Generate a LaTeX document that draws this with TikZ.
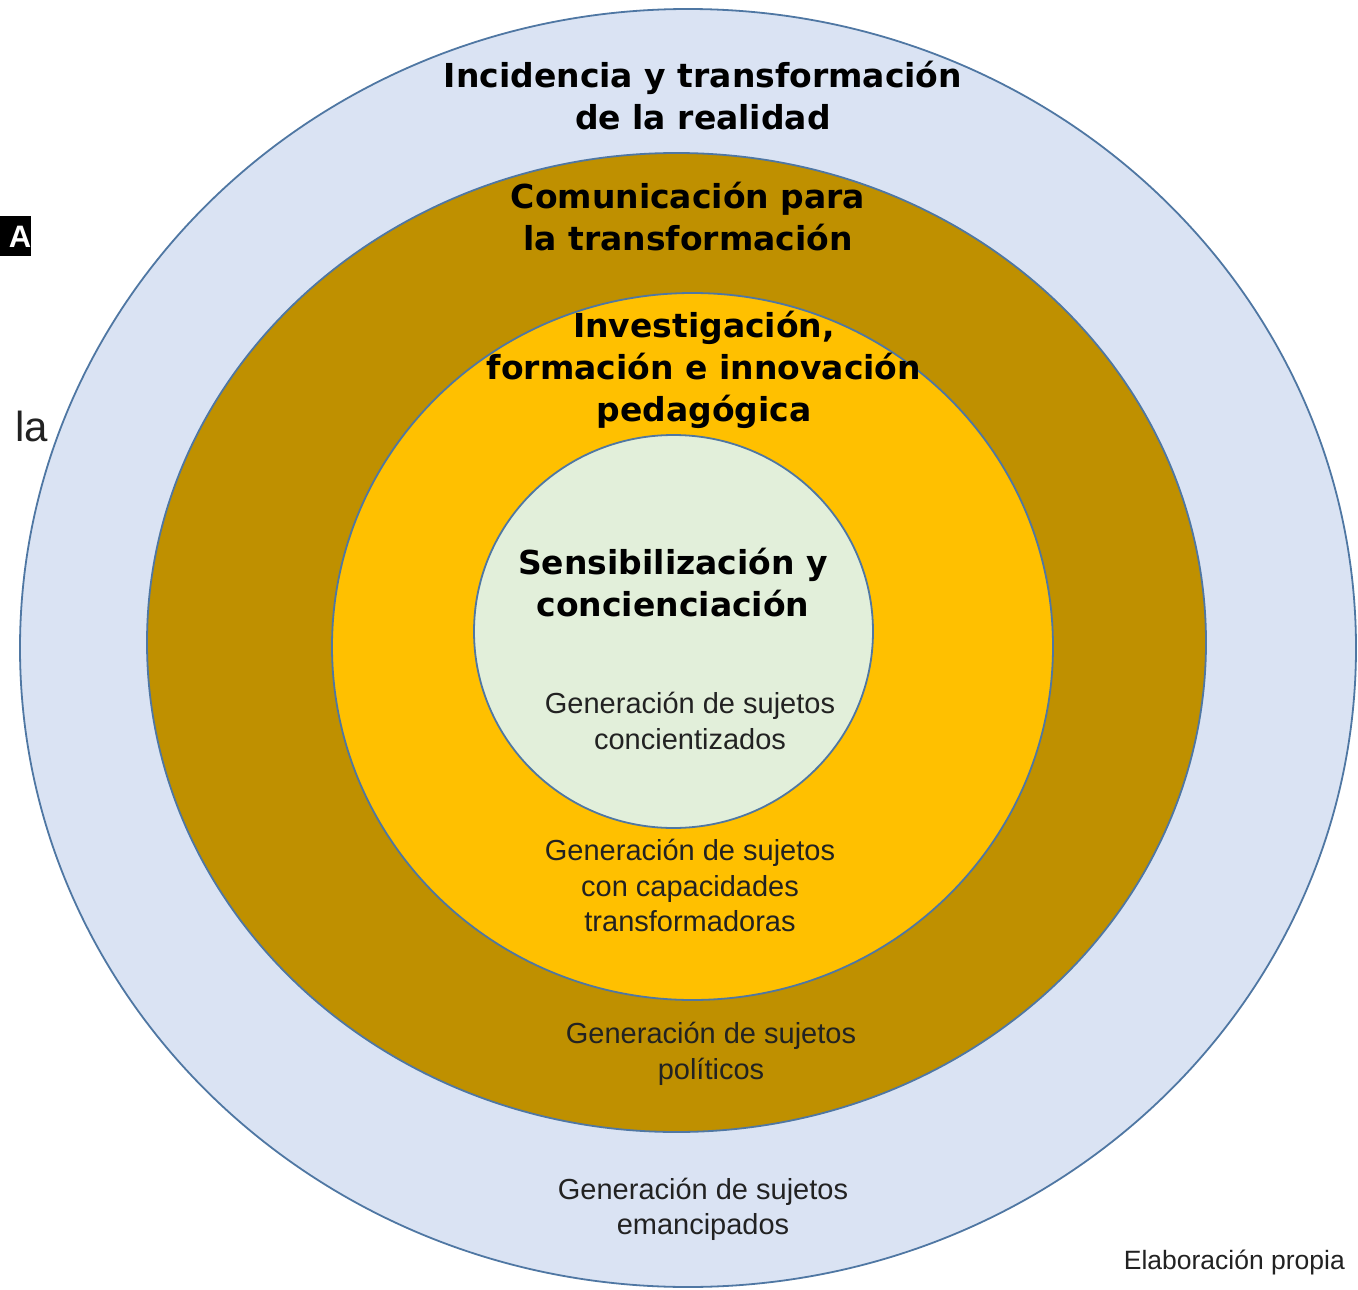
\documentclass[tikz,border=0pt]{standalone}
\usepackage{fontspec}
\setmainfont{Liberation Sans}
\newfontfamily\hfont{DejaVu Sans}
\newfontfamily\bodyfont{Liberation Sans}
\definecolor{outerfill}{HTML}{DAE3F3}
\definecolor{brownfill}{HTML}{BF9000}
\definecolor{yellowfill}{HTML}{FFC000}
\definecolor{greenfill}{HTML}{E2EFDA}
\definecolor{ringline}{HTML}{4F77A3}
\definecolor{bodytext}{HTML}{222222}
\tikzset{
  ring/.style={draw=ringline, line width=1.8pt},
  headtxt/.style={align=center, inner sep=0pt, font=\hfont\bfseries\fontsize{33}{42}\selectfont},
  bodytxt/.style={align=center, inner sep=0pt, text=bodytext, font=\bodyfont\fontsize{29}{35.5}\selectfont},
}
\begin{document}
\begin{tikzpicture}[x=1pt,y=-1pt]
\useasboundingbox (0,0) rectangle (1358,1290);
\clip (0,0) rectangle (1358,1290);
\fill[white] (0,0) rectangle (1358,1290);
% fragments of the surrounding page
\fill[black] (0,216) rectangle (31,256);
\node[anchor=base, inner sep=0pt, text=white, font=\bodyfont\bfseries\fontsize{31}{34}\selectfont] (frA) at (20,247) {A};
\node[anchor=base east, inner sep=0pt, text=bodytext, font=\bodyfont\fontsize{42}{48}\selectfont] (frla) at (48,441) {la};
% rings
\path[ring, fill=outerfill] (688,648) ellipse [x radius=668, y radius=639];
\path[ring, fill=brownfill] (676.5,642.5) ellipse [x radius=529.5, y radius=489.5];
\path[ring, fill=yellowfill] (692.5,646.5) ellipse [x radius=360.5, y radius=353.5];
\path[ring, fill=greenfill] (673.5,631.5) ellipse [x radius=199.5, y radius=196.5];
% headings
\node[headtxt] (h1) at (703,96) {Incidencia y transformación\\de la realidad};
\node[headtxt] (h2) at (688,217) {Comunicación para\\la transformación};
\node[headtxt] (h3) at (704,370) {Investigación,\\formación e innovación\\pedagógica};
\node[headtxt] (h4) at (673,582.5) {Sensibilización y\\concienciación};
% body texts
\node[bodytxt] (b1) at (690,721) {Generación de sujetos\\concientizados};
\node[bodytxt] (b2) at (690,885.5) {Generación de sujetos\\con capacidades\\transformadoras};
\node[bodytxt] (b3) at (711,1054) {Generación de sujetos\\políticos};
\node[bodytxt] (b4) at (703,1209.5) {Generación de sujetos\\emancipados};
\node[anchor=east, inner sep=0pt, text=bodytext, font=\bodyfont\fontsize{26.5}{30}\selectfont] (src) at (1345,1262) {Elaboración propia};
\end{tikzpicture}
\end{document}
